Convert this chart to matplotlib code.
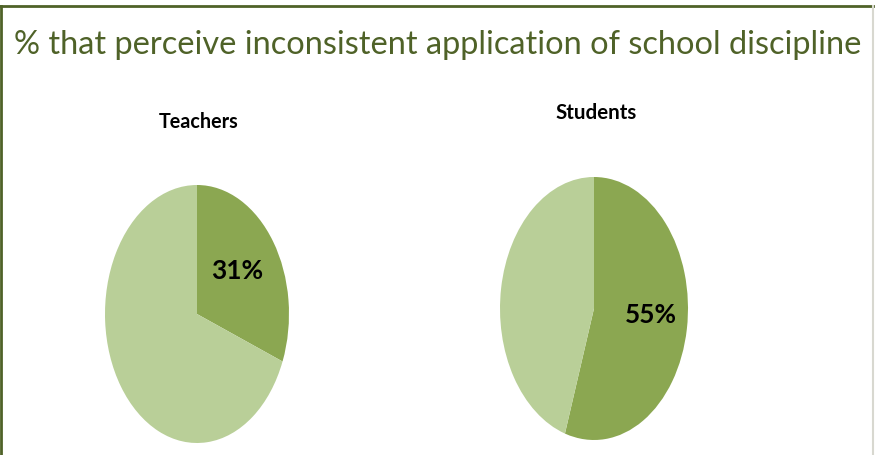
import matplotlib.pyplot as plt
from matplotlib.lines import Line2D

title = "% that perceive inconsistent application of school discipline"
groups = ["Teachers", "Students"]
perceive = [31, 55]
labels = ["31%", "55%"]

dark = "#8BA751"
light = "#B9CF98"
green = "#4F6228"
font = ["Lato", "DejaVu Sans"]

fig = plt.figure(figsize=(8.75, 4.55), dpi=100)
fig.patch.set_facecolor("white")
renderer = fig.canvas.get_renderer()


def fit(txt, width_px):
    # shrink/grow font so the text spans the wanted pixel width
    w = txt.get_window_extent(renderer).width
    txt.set_fontsize(txt.get_fontsize() * width_px / w)


# frame: green top and left edge, grey right edge
fig.add_artist(Line2D([1 / 875, 1 / 875], [0, 1 - 6 / 455], transform=fig.transFigure, color=green, lw=2))
fig.add_artist(Line2D([0, 873 / 875], [1 - 6 / 455, 1 - 6 / 455], transform=fig.transFigure, color=green, lw=2))
fig.add_artist(Line2D([873 / 875, 873 / 875], [0, 1 - 6 / 455], transform=fig.transFigure, color="#D8D8D0", lw=1.5))

t = fig.text(438 / 875, 1 - 45 / 455, title, ha="center", va="center",
             fontsize=26, color=green, family=font)
fit(t, 845)

# pie boxes in pixels: left, top, right, bottom
boxes = [(105, 185, 289, 443), (500, 177, 688, 440)]
title_pos = [(199, 122), (596, 113)]
title_w = [80, 82]
label_pos = [(0.44, 0.33), (0.60, -0.05)]

for i in range(2):
    l, tp, r, b = boxes[i]
    ax = fig.add_axes([l / 875, 1 - b / 455, (r - l) / 875, (b - tp) / 455])
    vals = [perceive[i], 100 - perceive[i]]
    ax.pie(vals, colors=[dark, light], startangle=90, counterclock=False,
           radius=1, wedgeprops=dict(linewidth=0))
    ax.set_aspect("auto")
    ax.set_xlim(-1, 1)
    ax.set_ylim(-1, 1)
    ax.axis("off")
    lt = ax.text(label_pos[i][0], label_pos[i][1], labels[i], ha="center", va="center",
                 fontsize=22, fontweight="bold", color="black", family=font)
    fit(lt, 52)
    gt = fig.text(title_pos[i][0] / 875, 1 - title_pos[i][1] / 455, groups[i],
                  ha="center", va="center", fontsize=14, fontweight="bold",
                  color="black", family=font)
    fit(gt, title_w[i])

fig.savefig("out.png", dpi=100)
